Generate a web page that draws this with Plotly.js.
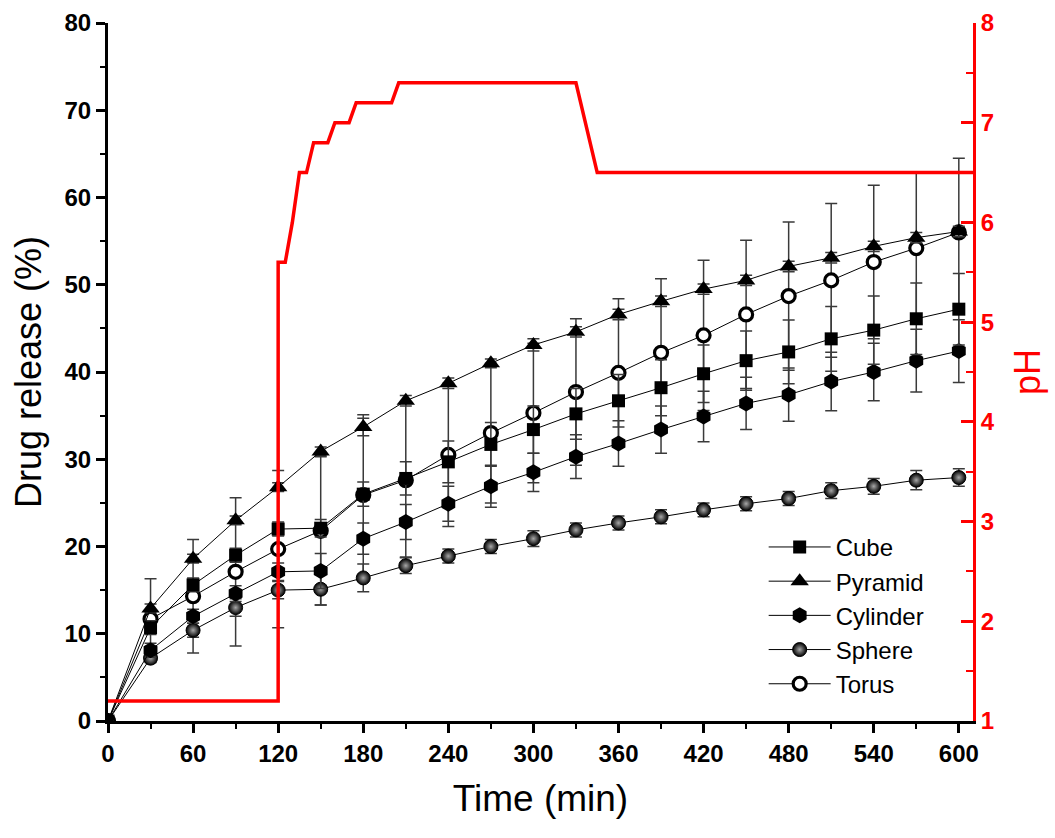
<!DOCTYPE html>
<html>
<head>
<meta charset="utf-8">
<script src="https://cdn.plot.ly/plotly-3.0.1.min.js"></script>
<style>html,body{margin:0;padding:0;background:#fff;}#chart{width:1055px;height:838px;}</style>
</head>
<body>
<div id="chart"></div>
<script>
// Sampling times (min)
const time = [0,30,60,90,120,150,180,210,240,270,300,330,360,390,420,450,480,510,540,570,600];

// Drug release (%) for each shape
const cube     = [0,10.7,15.6,19.0,22.0,22.1,26.0,27.8,29.7,31.7,33.4,35.2,36.7,38.2,39.8,41.3,42.3,43.8,44.8,46.1,47.2];
const pyramid  = [0,12.9,18.6,23.0,26.8,30.9,33.7,36.7,38.7,41.0,43.1,44.6,46.6,48.1,49.5,50.5,52.1,53.1,54.4,55.4,56.1];
const cylinder = [0,8.1,12.0,14.6,17.1,17.2,20.9,22.8,24.9,26.9,28.5,30.3,31.8,33.4,34.9,36.4,37.4,38.9,40.0,41.3,42.4];
const sphere   = [0,7.2,10.4,13.0,15.0,15.1,16.4,17.8,18.9,20.0,20.9,21.9,22.7,23.4,24.2,24.9,25.5,26.4,26.9,27.6,27.9];
const torus    = [0,11.7,14.3,17.1,19.7,21.8,25.9,27.6,30.5,33.0,35.3,37.7,39.9,42.2,44.2,46.6,48.7,50.5,52.6,54.2,56.0];

// Error bars (± SD)
const cubeErr     = [0,0.8,0.8,0.8,0.8,1.0,1.4,1.9,2.4,2.5,2.7,2.9,3.0,3.2,3.3,3.4,3.65,3.7,3.9,4.1,4.1];
const pyramidErr  = [0,0.5,0.5,0.5,0.5,0.5,1.0,0.6,0.6,0.5,0.7,0.6,0.6,0.6,0.6,0.6,0.6,0.6,0.6,0.6,0.6];
const cylinderErr = [0,0.8,0.8,0.9,1.0,2.0,1.8,2.0,2.0,2.4,2.2,2.5,2.6,2.7,2.9,3.0,3.05,3.35,3.3,3.6,3.6];
const sphereErr   = [0,0.5,0.8,1.0,1.0,1.8,1.6,0.9,0.8,0.8,0.9,0.8,0.8,0.8,0.8,0.8,0.8,0.9,0.9,1.1,1.0];
const torusErr    = [0,4.6,6.5,8.5,9.0,8.5,9.2,8.8,8.2,8.0,8.0,8.4,8.5,8.5,8.6,8.5,8.5,8.8,8.8,8.7,8.5];

// pH profile
const phTime = [0,120,120,125,130,135,140,145,155,160,170,175,200,205,330,345,610];
const phVal  = [1.2,1.2,5.6,5.6,6.0,6.5,6.5,6.8,6.8,7.0,7.0,7.2,7.2,7.4,7.4,6.5,6.5];

// Tick labels
const xTicks = [0,60,120,180,240,300,360,420,480,540,600];
const yTicks = [0,10,20,30,40,50,60,70,80];
const phTicks = [1,2,3,4,5,6,7,8];

const FONT = 'Arial, "Liberation Sans", sans-serif';
const errStyle = (arr) => ({type:'data', array: arr, visible:true, color:'#3a3a3a', thickness:1.5, width:6});
const lineStyle = {color:'#000', width:1};

const traces = [
  {x: time, y: torus, name:'Torus', legendrank:5, mode:'lines+markers', line: lineStyle,
   marker:{symbol:'circle', size:13, color:'#fff', line:{color:'#000', width:3.2}}, error_y: errStyle(torusErr)},
  {x: time, y: sphere, name:'Sphere', legendrank:4, mode:'lines+markers', line: lineStyle,
   marker:{symbol:'circle', size:14, color:'#000', gradient:{type:'radial', color:'#a8a8a8'}, line:{color:'#000', width:1}}, error_y: errStyle(sphereErr)},
  {x: time, y: cylinder, name:'Cylinder', legendrank:3, mode:'lines+markers', line: lineStyle,
   marker:{symbol:'hexagon', size:16, color:'#000'}, error_y: errStyle(cylinderErr)},
  {x: time, y: cube, name:'Cube', legendrank:1, mode:'lines+markers', line: lineStyle,
   marker:{symbol:'square', size:13, color:'#000'}, error_y: errStyle(cubeErr)},
  {x: time, y: pyramid, name:'Pyramid', legendrank:2, mode:'lines+markers', line: lineStyle,
   marker:{symbol:'triangle-up', size:16, color:'#000'}, error_y: errStyle(pyramidErr)},
  {x: phTime, y: phVal, name:'pH', yaxis:'y2', mode:'lines', showlegend:false,
   line:{color:'#ff0000', width:3.5}}
];

const layout = {
  width:1055, height:838,
  paper_bgcolor:'#fff', plot_bgcolor:'rgba(0,0,0,0)',
  margin:{l:108, r:82, t:23, b:117},
  font:{family:FONT, color:'#000'},
  showlegend:true,
  legend:{x:0.758, y:0.281, xanchor:'left', yanchor:'top', bgcolor:'rgba(0,0,0,0)',
          font:{family:FONT, size:24, color:'#000'}, itemwidth:62, tracegroupgap:0},
  xaxis:{range:[0,610], tickvals:xTicks, ticktext:xTicks.map(String), showgrid:false, zeroline:false,
         showline:true, linecolor:'#000', linewidth:3, ticks:'outside', ticklen:9, tickwidth:3, tickcolor:'#000',
         minor:{tickvals:[30,90,150,210,270,330,390,450,510,570], ticks:'outside', ticklen:5, tickwidth:2, tickcolor:'#000'},
         tickfont:{family:FONT, size:24, weight:'bold', color:'#000'},
         title:{text:'Time (min)', font:{family:FONT, size:37, color:'#000'}, standoff:20}},
  yaxis:{range:[0,80], tickvals:yTicks, ticktext:yTicks.map(String), showgrid:false, zeroline:false,
         showline:true, linecolor:'#000', linewidth:3, ticks:'outside', ticklen:9, tickwidth:3, tickcolor:'#000',
         minor:{dtick:5, ticks:'outside', ticklen:5, tickwidth:2, tickcolor:'#000'},
         tickfont:{family:FONT, size:24, weight:'bold', color:'#000'},
         title:{text:'Drug release (%)', font:{family:FONT, size:36, color:'#000'}, standoff:12}},
  yaxis2:{range:[1,8], tickvals:phTicks, ticktext:phTicks.map(String), overlaying:'y', side:'right',
          showgrid:false, zeroline:false, showline:true, linecolor:'#ff0000', linewidth:3,
          ticks:'inside', ticklen:12, tickwidth:3, tickcolor:'#ff0000',
          minor:{dtick:0.5, ticks:'inside', ticklen:7, tickwidth:2, tickcolor:'#ff0000'},
          tickfont:{family:FONT, size:24, weight:'bold', color:'#ff0000'},
          title:{text:'pH', font:{family:FONT, size:36, color:'#ff0000'}, standoff:22}}
};

Plotly.newPlot('chart', traces, layout, {displayModeBar:false, staticPlot:true});
</script>
</body>
</html>
